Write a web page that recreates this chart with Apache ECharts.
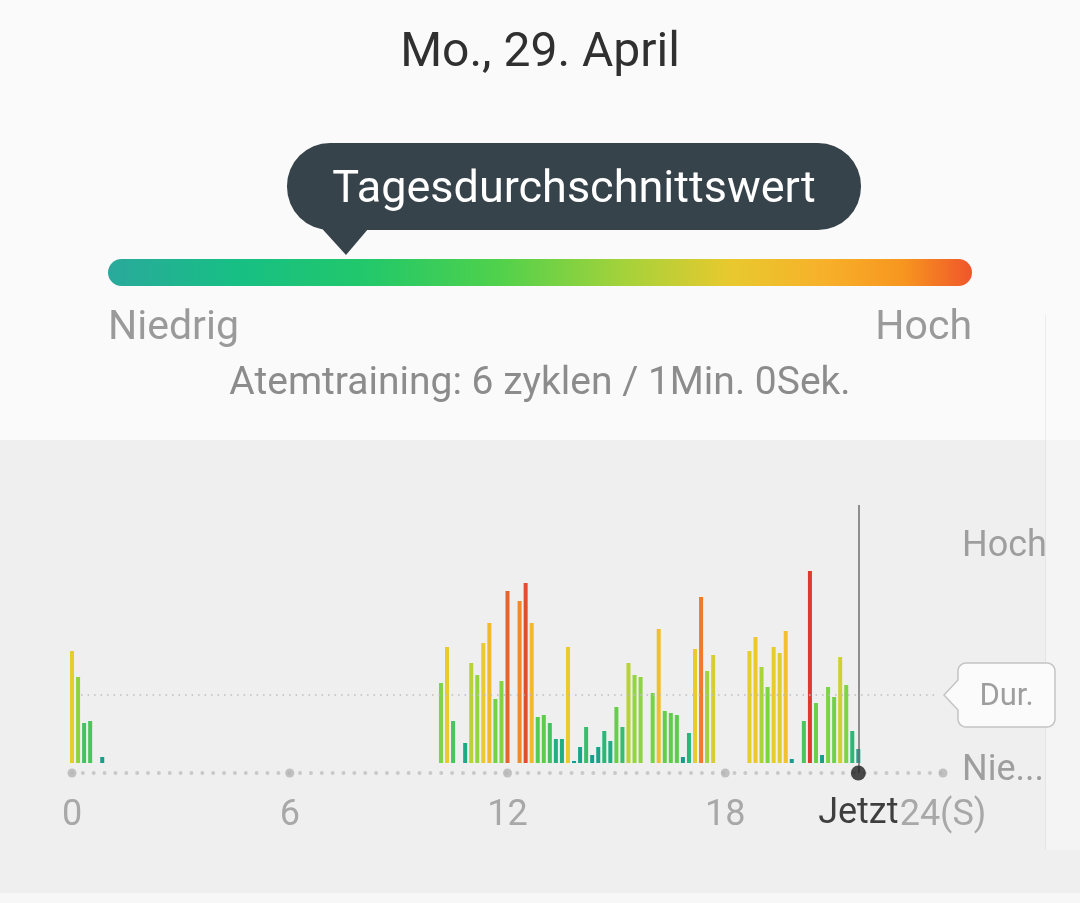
<!DOCTYPE html>
<html><head><meta charset="utf-8">
<script src="https://cdn.jsdelivr.net/npm/echarts@6/dist/echarts.min.js"></script>
<style>
html,body{margin:0;padding:0;background:#fafafa;}
#wrap{position:relative;width:1080px;height:903px;background:linear-gradient(to bottom,#fafafa 0,#fafafa 440px,#efefef 440px,#efefef 893px,#f7f7f7 893px);}
#strip{position:absolute;left:1045px;top:440px;width:35px;height:410px;background:#f4f4f4;border-left:1px solid #e4e4e4;}
#strip2{position:absolute;left:1045px;top:315px;width:0;height:125px;border-left:1px solid #ececec;}
#c{position:absolute;left:0;top:0;width:1080px;height:903px;}
</style>
</head><body><div id="wrap"><div id="strip"></div><div id="strip2"></div><div id="c"></div></div>
<script>
// ---- data ----
const titleText = 'Mo., 29. April';
const bubbleText = 'Tagesdurchschnittswert';
const scaleLow = 'Niedrig';
const scaleHigh = 'Hoch';
const subtitleText = 'Atemtraining: 6 zyklen / 1Min. 0Sek.';
const xTicks = [0, 6, 12, 18, 24];
const xTickLabels = ['0', '6', '12', '18', '24(S)'];
const minutes = [0,10,20,30,50,610,620,630,650,660,670,680,690,700,710,720,740,750,760,770,780,790,800,810,820,830,840,850,860,870,880,890,900,910,920,930,940,960,970,980,990,1000,1010,1020,1030,1040,1050,1060,1120,1130,1140,1150,1160,1170,1180,1190,1210,1220,1230,1240,1250,1260,1270,1280,1290,1300];
const stress = [56,43,20,21,3,40,58,21,10,50,44,60,70,32,41,86,81,90,70,23,24,20,12,12,58,1,8,18,4,8,16,11,28,18,50,44,43,35,67,26,25,24,3,15,57,83,46,54,56,63,48,38,58,55,66,2,21,96,30,4,38,33,53,39,16,7];
const averageStress = 34;
const nowMinutes = 1300;
const nowLabel = 'Jetzt';
const yLabelHigh = 'Hoch';
const yLabelHighValue = 108;
const yLabelLow = 'Nie...';
const yLabelLowValue = -4;
const avgLabel = 'Dur.';

// ---- chart ----
const FONT = 'Roboto, "Noto Sans", sans-serif';
const Y_MIN = -5, Y_MAX = 129;
const nowHour = nowMinutes / 60;
const barData = minutes.map((m, i) => [m / 60, stress[i]]);

const chart = echarts.init(document.getElementById('c'), null, {renderer: 'canvas'});
const option = {
  backgroundColor: 'transparent',
  animation: false,
  grid: {left: 72, right: 137, top: 505, bottom: 130},
  xAxis: {
    type: 'value', min: 0, max: 24, interval: 6,
    axisLine: {show: true, onZero: false, lineStyle: {color: '#c9c9c9', width: 4, type: [0.01, 10.85], cap: 'round'}},
    axisTick: {show: false},
    splitLine: {show: false},
    axisLabel: {
      color: '#a8a8a8', fontSize: 36, fontFamily: FONT, margin: 25,
      formatter: v => { const i = xTicks.indexOf(v); return i >= 0 ? xTickLabels[i] : ''; }
    }
  },
  yAxis: {
    type: 'value', min: Y_MIN, max: Y_MAX,
    axisLine: {show: false}, axisTick: {show: false}, splitLine: {show: false}, axisLabel: {show: false}
  },
  visualMap: {
    type: 'continuous', show: false, seriesIndex: 0, dimension: 1, min: 0, max: 96,
    inRange: {color: ['#159a8c','#17a58a','#2bb877','#5dcc4c','#6fd247','#7fd443','#a8d43a','#e6cd2e','#f0c62c','#f4b42a','#f3922a','#e2552c','#e03a30']}
  },
  series: [
    {
      type: 'bar', data: barData, barWidth: 4, z: 4, silent: true
    },
    {
      type: 'line', data: [], silent: true,
      markLine: {
        silent: true, symbol: ['none', 'none'], label: {show: false},
        lineStyle: {color: '#bdbdbd', width: 1.5, type: [1.5, 5]},
        data: [[{coord: [0.25, averageStress]}, {coord: [23.85, averageStress]}]]
      }
    },
    {
      type: 'scatter', data: xTicks.map(t => [t, Y_MIN]), symbolSize: 9, clip: false, silent: true, z: 5,
      itemStyle: {color: '#b4b4b4'}
    },
    {
      type: 'scatter', data: [[nowHour, Y_MIN]], symbolSize: 15, clip: false, silent: true, z: 6,
      itemStyle: {color: '#1f1f1f'},
      label: {show: true, position: 'bottom', distance: 15, formatter: nowLabel, fontSize: 36, fontFamily: FONT, color: '#111111'},
      markLine: {
        silent: true, symbol: ['none', 'none'], label: {show: false},
        lineStyle: {color: '#6e6e6e', width: 1.5, type: 'solid'},
        data: [{xAxis: nowHour}]
      }
    }
  ]
};
chart.setOption(option);

const pAvg = chart.convertToPixel({gridIndex: 0}, [24, averageStress]);
const pHigh = chart.convertToPixel({gridIndex: 0}, [24, yLabelHighValue]);
const pLow = chart.convertToPixel({gridIndex: 0}, [24, yLabelLowValue]);

// Dur. bubble outline as polygon with rounded corners
const L = pAvg[0] + 15, R = 1055, T = pAvg[1] - 32, B = pAvg[1] + 32, r = 8, tip = pAvg[0] + 1;
function arc(cx, cy, a0, a1) {
  const pts = [];
  for (let k = 0; k <= 6; k++) {
    const a = a0 + (a1 - a0) * k / 6;
    pts.push([cx + r * Math.cos(a), cy + r * Math.sin(a)]);
  }
  return pts;
}
const P = Math.PI;
const durPts = [].concat(
  arc(R - r, T + r, -P / 2, 0),
  arc(R - r, B - r, 0, P / 2),
  arc(L + r, B - r, P / 2, P),
  [[L, pAvg[1] + 15], [tip, pAvg[1]], [L, pAvg[1] - 15]],
  arc(L + r, T + r, P, 1.5 * P)
);

chart.setOption({
  graphic: [
    {type: 'text', x: 540, y: 54, style: {text: titleText, fontSize: 48, fontFamily: FONT, fill: '#303030', align: 'center', verticalAlign: 'middle'}},
    {type: 'rect', shape: {x: 287, y: 143, width: 574, height: 87, r: 43}, style: {fill: '#37434b'}},
    {type: 'polygon', shape: {points: [[316, 222], [374, 222], [346, 255]]}, style: {fill: '#37434b'}},
    {type: 'text', x: 574, y: 191, style: {text: bubbleText, fontSize: 45, fontFamily: FONT, fill: '#ffffff', align: 'center', verticalAlign: 'middle'}},
    {type: 'rect', shape: {x: 108, y: 259, width: 864, height: 27, r: 13.5},
     style: {fill: new echarts.graphic.LinearGradient(0, 0, 1, 0, [
       {offset: 0, color: '#2aa99c'}, {offset: 0.15, color: '#17bf84'}, {offset: 0.3, color: '#22c86a'},
       {offset: 0.45, color: '#4fd14c'}, {offset: 0.6, color: '#a6d23a'}, {offset: 0.72, color: '#e8c92e'},
       {offset: 0.83, color: '#f7b02a'}, {offset: 0.92, color: '#f7961f'}, {offset: 1, color: '#f0562a'}])}},
    {type: 'text', x: 108, y: 329, style: {text: scaleLow, fontSize: 41, fontFamily: FONT, fill: '#9a9a9a', align: 'left', verticalAlign: 'middle'}},
    {type: 'text', x: 972, y: 329, style: {text: scaleHigh, fontSize: 41, fontFamily: FONT, fill: '#9a9a9a', align: 'right', verticalAlign: 'middle'}},
    {type: 'text', x: 540, y: 384, style: {text: subtitleText, fontSize: 39, fontFamily: FONT, fill: '#8c8c8c', align: 'center', verticalAlign: 'middle'}},
    {type: 'text', x: 962, y: pHigh[1], style: {text: yLabelHigh, fontSize: 36, fontFamily: FONT, fill: '#9e9e9e', align: 'left', verticalAlign: 'middle'}},
    {type: 'text', x: 962, y: pLow[1], style: {text: yLabelLow, fontSize: 36, fontFamily: FONT, fill: '#9e9e9e', align: 'left', verticalAlign: 'middle'}},
    {type: 'polygon', shape: {points: durPts}, style: {fill: '#fbfbfb', stroke: '#c4c4c4', lineWidth: 1.5}},
    {type: 'text', x: (L + R) / 2, y: pAvg[1] + 2, style: {text: avgLabel, fontSize: 31, fontFamily: FONT, fill: '#9e9e9e', align: 'center', verticalAlign: 'middle'}}
  ]
});
</script>
</body></html>
